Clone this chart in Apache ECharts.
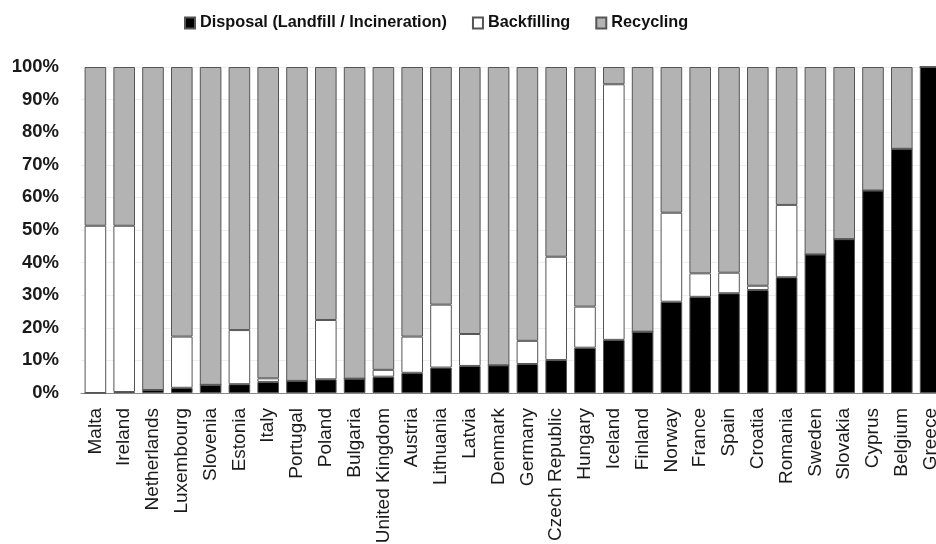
<!DOCTYPE html>
<html>
<head>
<meta charset="utf-8">
<script src="https://cdn.jsdelivr.net/npm/echarts@6/dist/echarts.min.js"></script>
<style>html,body{margin:0;padding:0;background:#fff}#c{width:936px;height:544px}</style>
</head>
<body>
<div id="c"></div>
<script>
const categories = ["Malta","Ireland","Netherlands","Luxembourg","Slovenia","Estonia","Italy","Portugal","Poland","Bulgaria","United Kingdom","Austria","Lithuania","Latvia","Denmark","Germany","Czech Republic","Hungary","Iceland","Finland","Norway","France","Spain","Croatia","Romania","Sweden","Slovakia","Cyprus","Belgium","Greece"];
const disposal =    [0, 0.3, 0.9, 1.6, 2.5, 2.7, 3.4, 3.7, 4.2, 4.4, 5.0, 6.2, 7.8, 8.3, 8.5, 8.9, 10.1, 13.9, 16.3, 18.8, 28.0, 29.5, 30.6, 31.6, 35.5, 42.5, 47.2, 62.1, 74.9, 100];
const backfilling = [51.3, 51.0, 0, 15.7, 0, 16.6, 1.1, 0, 18.2, 0, 2.1, 11.1, 19.3, 9.8, 0, 7.1, 31.7, 12.6, 78.4, 0, 27.3, 7.2, 6.3, 1.3, 22.2, 0, 0, 0, 0, 0];
const recycling =   [48.7, 48.7, 99.1, 82.7, 97.5, 80.7, 95.5, 96.3, 77.6, 95.6, 92.9, 82.7, 72.9, 81.9, 91.5, 84.0, 58.2, 73.5, 5.3, 81.2, 44.7, 63.3, 63.1, 67.1, 42.3, 57.5, 52.8, 37.9, 25.1, 0];
const seriesNames = ["Disposal (Landfill / Incineration)", "Backfilling", "Recycling"];

const chart = echarts.init(document.getElementById('c'), null, {renderer: 'canvas'});
const font = "'Liberation Sans', Arial, sans-serif";
const border = {borderColor: '#555', borderWidth: 1};
chart.setOption({
  animation: false,
  backgroundColor: '#fff',
  textStyle: {fontFamily: font},
  legend: {
    left: 179, top: 10,
    itemWidth: 10, itemHeight: 11, itemGap: 25,
    icon: 'rect',
    textStyle: {fontSize: 16.3, fontWeight: 'bold', color: '#111', fontFamily: font},
    data: seriesNames
  },
  grid: {left: 81, right: -9, top: 67, bottom: 151, containLabel: false, outerBoundsMode: 'none'},
  xAxis: {
    type: 'category', data: categories,
    axisLine: {lineStyle: {color: '#888', width: 1}},
    axisTick: {show: false},
    axisLabel: {rotate: 90, interval: 0, margin: 15, fontSize: 19, color: '#1a1a1a', fontFamily: font}
  },
  yAxis: {
    type: 'value', min: 0, max: 100, interval: 10,
    axisLine: {show: false}, axisTick: {show: false},
    splitLine: {lineStyle: {color: '#eeeeee', width: 1}},
    axisLabel: {formatter: '{value}%', fontSize: 18.5, fontWeight: 'bold', color: '#1a1a1a', margin: 22, fontFamily: font}
  },
  series: [
    {name: seriesNames[0], type: 'bar', stack: 's', data: disposal, barCategoryGap: '25%', itemStyle: Object.assign({color: '#000'}, border)},
    {name: seriesNames[1], type: 'bar', stack: 's', data: backfilling, itemStyle: Object.assign({color: '#fff'}, border)},
    {name: seriesNames[2], type: 'bar', stack: 's', data: recycling, itemStyle: Object.assign({color: '#b3b3b3'}, border)}
  ]
});
</script>
</body>
</html>
